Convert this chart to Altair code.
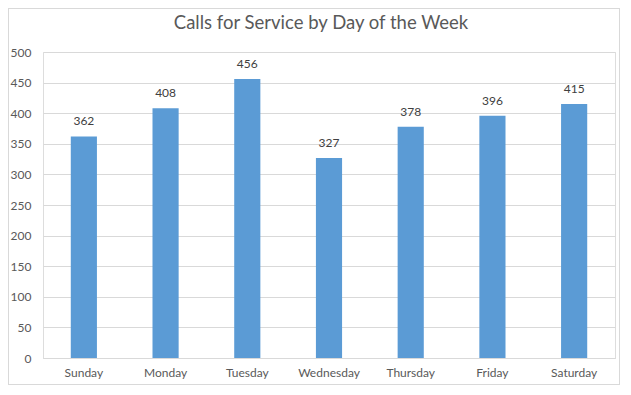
import altair as alt
import pandas as pd

days = ["Sunday", "Monday", "Tuesday", "Wednesday", "Thursday", "Friday", "Saturday"]
calls = [362, 408, 456, 327, 378, 396, 415]
title_text = ["Calls for Service by Day of the Week"]

df = pd.DataFrame({"day": days, "calls": calls})

W, H = 572, 306
FONT = "Lato"

x = alt.X("day:N", sort=days, title=None,
          scale=alt.Scale(paddingInner=0.68, paddingOuter=0.34),
          axis=alt.Axis(labelAngle=0, labelFontSize=12, labelColor="#595959", labelFont=FONT,
                        ticks=False, domainColor="#d9d9d9", labelPadding=9, grid=False))
y = alt.Y("calls:Q", title=None,
          scale=alt.Scale(domain=[0, 500], nice=False),
          axis=alt.Axis(values=list(range(0, 501, 50)), labelFontSize=12, labelColor="#595959",
                        labelFont=FONT, ticks=False, domain=False, gridColor="#d9d9d9",
                        labelPadding=12, labelOverlap=False))

base = alt.Chart(df)
bars = base.mark_bar(color="#5B9BD5").encode(x=x, y=y)
text = base.mark_text(dy=-15, fontSize=12, color="#404040", font=FONT).encode(
    x=x, y=y, text="calls:Q")
border = base.mark_rect(fill=None, stroke="#d9d9d9", strokeWidth=1).encode(
    x=alt.value(-34.5), x2=alt.value(W + 4.5), y=alt.value(-43.5), y2=alt.value(H + 26.5))
title = alt.Chart(pd.DataFrame({"t": title_text})).mark_text(
    fontSize=18.5, font=FONT, color="#595959", align="center", baseline="middle").encode(
    x=alt.value(W / 2 - 8), y=alt.value(-29), text="t:N")

chart = alt.layer(border, bars, text, title).properties(
    width=W, height=H,
    autosize=alt.AutoSizeParams(type="none"),
    padding={"left": 35, "top": 44, "right": 5, "bottom": 28},
).configure_view(stroke=None).configure(background="white")

chart.save("out.html", embed_options={"renderer": "svg", "actions": False})
